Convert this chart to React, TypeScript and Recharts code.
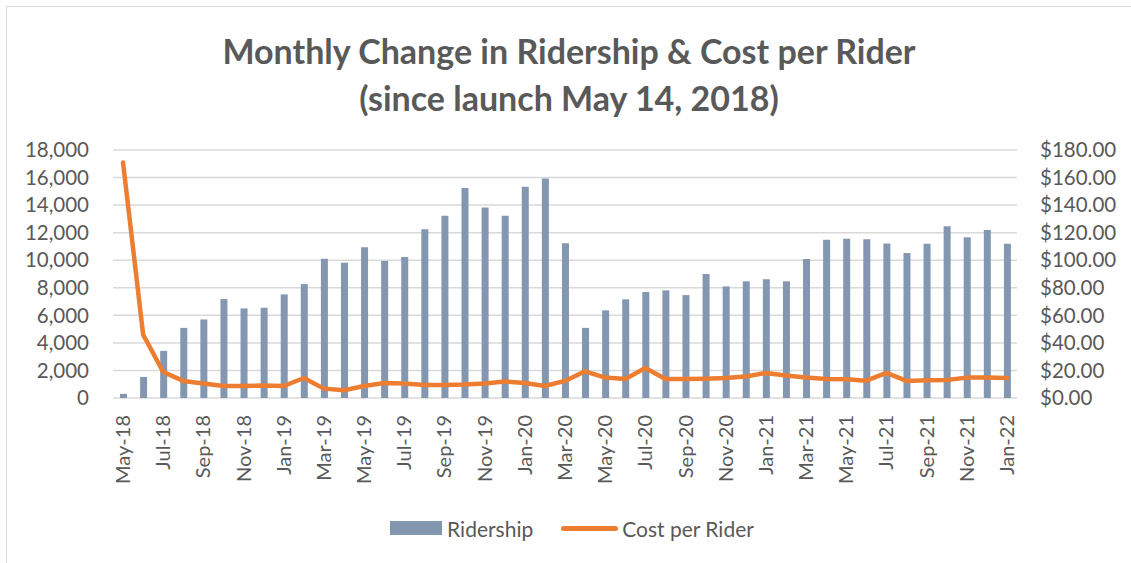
import React from "react"
import { ComposedChart, Bar, Line, XAxis, YAxis, CartesianGrid, Legend } from "recharts"

const months = [
  "May-18", "Jun-18", "Jul-18", "Aug-18", "Sep-18", "Oct-18", "Nov-18", "Dec-18",
  "Jan-19", "Feb-19", "Mar-19", "Apr-19", "May-19", "Jun-19", "Jul-19", "Aug-19", "Sep-19", "Oct-19", "Nov-19", "Dec-19",
  "Jan-20", "Feb-20", "Mar-20", "Apr-20", "May-20", "Jun-20", "Jul-20", "Aug-20", "Sep-20", "Oct-20", "Nov-20", "Dec-20",
  "Jan-21", "Feb-21", "Mar-21", "Apr-21", "May-21", "Jun-21", "Jul-21", "Aug-21", "Sep-21", "Oct-21", "Nov-21", "Dec-21",
  "Jan-22",
]

const ridership = [
  300, 1530, 3420, 5090, 5700, 7180, 6500, 6550,
  7520, 8270, 10110, 9820, 10950, 9950, 10240, 12250, 13220, 15240, 13830, 13220,
  15330, 15940, 11240, 5090, 6360, 7160, 7690, 7810, 7470, 9000, 8100, 8470,
  8620, 8470, 10090, 11480, 11550, 11520, 11210, 10530, 11190, 12470, 11670, 12200,
  11190,
]

const costPerRider = [
  171, 46, 18.9, 12.4, 10.5, 8.7, 8.7, 9.0,
  8.7, 14.5, 6.8, 5.6, 8.7, 10.9, 10.5, 9.5, 9.5, 9.8, 10.5, 11.9,
  10.9, 8.7, 12.4, 19.4, 14.8, 13.8, 21.8, 13.8, 13.8, 14.0, 14.5, 15.6,
  18.2, 16.3, 14.8, 13.8, 13.6, 12.6, 18.2, 12.4, 12.8, 13.0, 14.8, 14.8,
  14.5,
]

const leftTicks = [0, 2000, 4000, 6000, 8000, 10000, 12000, 14000, 16000, 18000]
const rightTicks = [0, 20, 40, 60, 80, 100, 120, 140, 160, 180]

const FONT = "Lato, 'Open Sans', sans-serif"
const TEXT = "#595959"
const BAR = "#8497B0"
const LINE = "#ED7D31"

const chartData = months.map((m, i) => ({
  month: m,
  ridership: ridership[i],
  cost: costPerRider[i],
}))

// rotated month labels, reading bottom to top
function MonthTick(props: any) {
  const { x, y, payload } = props
  return (
    <g transform={`translate(${x},${y})`}>
      <text
        transform="rotate(-90)"
        textAnchor="end"
        dy="0.35em"
        fill={TEXT}
        fontSize={20}
        fontFamily={FONT}
      >
        {payload.value}
      </text>
    </g>
  )
}

function ChartLegend() {
  return (
    <div style={{ display: "flex", justifyContent: "center", alignItems: "center", height: 30, fontFamily: FONT, fontSize: 21, color: TEXT }}>
      <span style={{ display: "inline-block", width: 52, height: 14, background: BAR, marginRight: 5 }} />
      <span style={{ marginRight: 28 }}>Ridership</span>
      <span style={{ display: "inline-block", width: 57, height: 5, borderRadius: 3, background: LINE, marginRight: 4 }} />
      <span>Cost per Rider</span>
    </div>
  )
}

export default function App() {
  return (
    <div style={{ position: "absolute", left: 0, top: 0, width: 1131, height: 563, background: "#fff", overflow: "hidden" }}>
      <div style={{ position: "absolute", left: 6, top: 6, width: 1200, height: 600, borderLeft: "1.5px solid #d9d9d9", borderTop: "1.5px solid #d9d9d9" }} />
      <div
        style={{
          position: "absolute",
          left: 0,
          top: 27,
          width: 1138,
          textAlign: "center",
          fontFamily: FONT,
          fontWeight: 700,
          fontSize: 34,
          lineHeight: "47px",
          color: TEXT,
        }}
      >
        Monthly Change in Ridership &amp; Cost per Rider
        <br />
        (since launch May 14, 2018)
      </div>
      <ComposedChart
        width={1131}
        height={563}
        data={chartData}
        margin={{ top: 150, right: 0, bottom: 20, left: 13 }}
        barCategoryGap={0}
      >
        <CartesianGrid vertical={false} stroke="#d9d9d9" strokeWidth={1.5} yAxisId="left" />
        <XAxis
          dataKey="month"
          interval={1}
          axisLine={false}
          tickLine={false}
          tickMargin={11}
          height={115}
          tick={<MonthTick />}
        />
        <YAxis
          yAxisId="left"
          orientation="left"
          width={100}
          domain={[0, 18000]}
          ticks={leftTicks}
          interval={0}
          axisLine={false}
          tickLine={false}
          tickMargin={18}
          tick={{ fill: TEXT, fontSize: 20.5, fontFamily: FONT }}
          tickFormatter={(v: number) => v.toLocaleString("en-US")}
        />
        <YAxis
          yAxisId="right"
          orientation="right"
          width={114}
          domain={[0, 180]}
          ticks={rightTicks}
          interval={0}
          axisLine={false}
          tickLine={false}
          tickMargin={17}
          tick={{ fill: TEXT, fontSize: 20.5, fontFamily: FONT, textAnchor: "start" }}
          tickFormatter={(v: number) => `$${v.toFixed(2)}`}
        />
        <Legend verticalAlign="bottom" content={<ChartLegend />} />
        <Bar yAxisId="left" dataKey="ridership" name="Ridership" fill={BAR} barSize={7} isAnimationActive={false} />
        <Line
          yAxisId="right"
          dataKey="cost"
          name="Cost per Rider"
          type="linear"
          stroke={LINE}
          strokeWidth={4.5}
          strokeLinejoin="round"
          strokeLinecap="round"
          dot={false}
          activeDot={false}
          isAnimationActive={false}
        />
      </ComposedChart>
    </div>
  )
}
